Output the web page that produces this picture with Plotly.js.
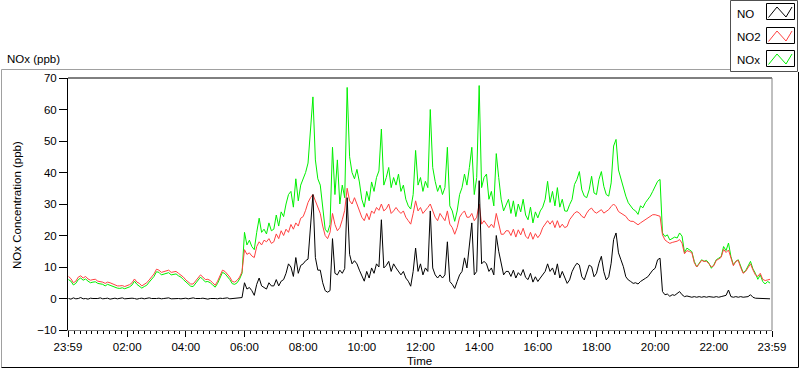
<!DOCTYPE html>
<html>
<head>
<meta charset="utf-8">
<script src="https://cdn.plot.ly/plotly-3.0.1.min.js"></script>
<style>
html,body{margin:0;padding:0;background:#fff;}
#chart{width:800px;height:369px;}
</style>
</head>
<body>
<div id="chart"></div>
<script>
// ---- data (5-minute samples, 00:00 .. 23:55) ----
const seriesNames = ['NO', 'NO2', 'NOx'];
const day = '2020-01-02';

const no2 = [
  7.0, 6.3, 5.0, 5.5, 6.8, 7.2, 6.5, 7.0, 6.2, 5.8, 6.0, 6.1,
  5.5, 5.4, 5.2, 4.8, 5.2, 5.0, 4.6, 4.2, 4.0, 4.0, 4.1, 3.8,
  4.0, 4.4, 5.0, 6.2, 5.2, 4.8, 4.0, 4.5, 5.0, 5.9, 6.8, 7.8,
  9.3, 9.0, 8.3, 8.6, 8.8, 9.0, 8.3, 8.5, 8.6, 8.0, 7.5, 6.8,
  5.9, 5.2, 4.6, 4.6, 5.5, 6.5, 7.5, 6.8, 6.0, 6.1, 5.7, 5.0,
  4.2, 5.5, 7.0, 9.0, 8.6, 7.8, 6.8, 5.4, 5.2, 5.8, 6.8, 8.5,
  15.5, 14.0, 14.5, 13.5, 13.0, 16.5, 18.0, 17.0, 18.5, 18.0, 19.0, 17.5,
  18.0, 20.5, 19.0, 21.5, 20.0, 22.0, 21.0, 23.5, 22.0, 24.0, 23.0, 25.5,
  26.0, 28.0, 30.5, 32.0, 33.0, 31.0, 29.0, 27.0, 23.0, 20.0, 19.0, 21.0,
  27.0, 23.5, 21.5, 22.5, 25.0, 28.0, 35.0, 31.0, 30.0, 32.0, 30.0, 28.0,
  25.8, 24.7, 27.0, 25.0, 27.8, 27.0, 28.9, 28.0, 30.0, 27.8, 28.5, 30.0,
  27.0, 27.8, 28.9, 27.8, 27.0, 27.8, 25.8, 24.7, 23.6, 27.0, 31.0, 27.8,
  28.9, 27.0, 27.8, 28.9, 30.0, 27.8, 25.8, 24.7, 27.0, 25.8, 24.7, 27.8,
  23.6, 22.5, 20.4, 22.5, 25.8, 27.0, 27.8, 25.8, 25.8, 27.0, 24.7, 25.8,
  30.0, 23.6, 24.7, 23.6, 22.5, 23.6, 22.5, 27.0, 23.6, 20.4, 20.4, 21.5,
  21.5, 20.0, 22.0, 19.5, 21.8, 20.2, 22.3, 19.8, 19.0, 21.0, 18.8, 20.6,
  19.3, 20.4, 22.5, 23.6, 24.7, 23.6, 24.7, 22.5, 24.7, 22.5, 23.6, 22.5,
  22.9, 25.0, 26.1, 27.1, 27.6, 27.1, 26.1, 25.6, 27.1, 28.2, 28.7, 27.6,
  27.1, 27.6, 28.2, 27.1, 27.6, 28.2, 29.2, 30.0, 29.2, 27.6, 27.1, 26.6,
  26.1, 25.0, 24.5, 24.5, 24.0, 23.4, 24.0, 24.5, 25.0, 25.6, 26.1, 26.6,
  26.6, 26.3, 26.1, 20.2, 18.6, 18.0, 17.5, 17.8, 18.0, 18.2, 18.7, 17.6,
  14.2, 15.2, 14.9, 14.6, 11.4, 10.0, 11.0, 12.1, 11.8, 11.8, 11.0, 10.0,
  10.4, 12.1, 12.5, 13.1, 15.6, 14.6, 15.4, 13.1, 10.4, 11.8, 12.1, 9.8,
  8.0, 8.6, 10.0, 11.0, 9.1, 7.5, 7.0, 8.0, 6.1, 5.7, 5.9, 6.1
];

const nox = [
  6.0, 5.5, 4.3, 4.8, 6.0, 6.5, 5.8, 6.2, 5.5, 5.0, 5.2, 5.3,
  4.8, 4.6, 4.5, 4.0, 4.5, 4.2, 3.9, 3.5, 3.3, 3.2, 3.4, 3.1,
  3.3, 3.7, 4.3, 5.5, 4.5, 4.0, 3.3, 3.8, 4.2, 5.2, 6.0, 7.0,
  8.5, 8.3, 7.5, 7.8, 8.0, 8.2, 7.5, 7.7, 7.8, 7.2, 6.8, 6.0,
  5.2, 4.5, 3.9, 3.8, 4.8, 5.8, 6.8, 6.0, 5.3, 5.4, 5.0, 4.3,
  3.6, 4.8, 6.3, 8.3, 7.9, 7.0, 6.0, 4.7, 4.5, 5.0, 6.2, 8.0,
  21.0, 17.0, 18.5, 16.5, 15.5, 21.0, 25.5, 21.0, 22.0, 20.5, 24.0, 21.5,
  22.0, 26.5, 23.0, 27.5, 26.0, 30.0, 33.0, 34.0, 29.0, 38.0, 31.0, 36.0,
  38.0, 40.0, 43.0, 55.0, 64.0, 44.0, 38.0, 36.0, 28.0, 22.0, 21.0, 23.5,
  48.0, 33.0, 44.0, 30.0, 36.0, 32.0, 67.0, 45.0, 40.0, 38.0, 41.0, 37.0,
  31.5, 29.0, 34.0, 31.0, 37.0, 34.0, 38.4, 40.5, 53.8, 36.0, 38.4, 41.6,
  35.2, 38.4, 36.0, 39.5, 34.0, 36.0, 31.5, 29.4, 28.4, 33.0, 47.0, 36.0,
  38.4, 34.0, 37.2, 35.2, 60.0, 41.6, 37.2, 34.0, 36.0, 33.0, 35.2, 48.0,
  29.4, 27.8, 24.5, 27.8, 33.0, 35.2, 39.5, 36.0, 41.6, 48.0, 33.0, 38.4,
  67.6, 35.2, 38.4, 39.5, 31.5, 34.0, 29.4, 46.0, 38.4, 31.5, 27.8, 29.4,
  31.5, 27.0, 31.0, 26.0, 30.0, 27.5, 31.5, 26.5, 25.0, 29.0, 24.0, 27.5,
  25.6, 27.8, 29.0, 31.5, 37.2, 30.5, 34.0, 29.4, 35.2, 29.0, 31.5, 27.8,
  27.7, 29.8, 31.4, 36.2, 37.8, 40.3, 34.5, 32.5, 32.0, 34.5, 38.8, 33.5,
  33.0, 37.8, 40.3, 35.6, 33.0, 32.5, 36.7, 48.4, 50.5, 40.8, 37.8, 35.6,
  32.5, 30.4, 29.4, 28.3, 27.8, 26.7, 29.4, 28.8, 30.4, 31.4, 32.5, 34.0,
  35.6, 37.2, 37.8, 20.8, 19.7, 20.2, 18.6, 19.1, 19.5, 19.2, 20.8, 19.8,
  14.6, 16.0, 15.5, 14.9, 11.8, 10.0, 11.2, 12.3, 11.8, 12.1, 11.2, 9.6,
  10.7, 12.3, 12.8, 13.3, 16.5, 15.2, 17.6, 13.3, 10.7, 11.8, 12.3, 10.0,
  8.2, 8.8, 10.3, 11.8, 9.4, 8.0, 6.1, 7.5, 5.4, 4.6, 5.4, 4.9
];

const no = [
  0.0, -0.2, 0.2, -0.1, 0.0, 0.3, -0.1, 0.0, -0.2, 0.1, 0.0, -0.1,
  0.0, 0.2, -0.1, 0.0, 0.1, -0.2, 0.0, 0.1, -0.1, 0.0, 0.2, -0.1,
  0.0, -0.1, 0.1, 0.0, -0.2, 0.0, 0.1, -0.1, 0.0, 0.2, 0.0, -0.1,
  0.0, 0.1, -0.1, 0.0, 0.0, 0.2, -0.1, 0.0, 0.1, 0.0, -0.1, 0.0,
  0.1, -0.1, 0.0, 0.2, 0.0, -0.1, 0.0, 0.1, 0.0, -0.2, 0.0, 0.1,
  0.0, -0.1, 0.1, 0.0, 0.0, 0.2, -0.1, 0.0, 0.1, 0.0, 0.2, 0.3,
  5.0, 3.0, 3.5, 2.5, 1.0, 4.5, 6.5, 4.0, 3.5, 3.0, 5.0, 4.0,
  4.0, 6.0, 4.0, 5.5, 6.0, 8.0, 11.0, 10.0, 7.0, 13.0, 8.0, 10.5,
  11.0, 12.0, 12.5, 22.0, 33.0, 13.0, 9.0, 9.0, 5.0, 2.5, 2.0, 2.5,
  19.0, 8.0, 7.5, 9.0, 8.0, 9.5, 32.0, 14.0, 11.0, 12.0, 11.0, 9.0,
  7.5, 5.5, 8.6, 6.5, 9.7, 8.0, 11.0, 10.0, 25.0, 9.7, 10.5, 11.8,
  8.6, 11.0, 9.7, 8.6, 7.5, 8.6, 6.5, 5.5, 3.9, 8.6, 16.0, 8.6,
  11.0, 7.5, 9.7, 8.6, 27.8, 9.7, 7.5, 6.5, 7.5, 6.5, 7.5, 18.0,
  5.4, 4.5, 3.2, 5.4, 7.5, 8.6, 12.9, 9.7, 18.0, 24.0, 7.5, 8.6,
  37.4, 11.0, 11.8, 11.0, 8.6, 9.7, 7.5, 20.0, 15.0, 11.0, 7.5, 8.6,
  8.6, 7.0, 9.0, 6.5, 8.2, 7.3, 9.2, 6.7, 6.0, 8.0, 5.2, 6.9,
  5.4, 6.5, 7.5, 8.6, 11.0, 8.6, 9.7, 7.5, 11.0, 6.5, 8.6, 6.5,
  4.8, 5.9, 8.5, 10.1, 11.2, 10.6, 6.9, 5.9, 8.0, 10.6, 10.1, 6.9,
  8.0, 11.2, 13.4, 8.5, 5.9, 6.9, 11.2, 18.7, 20.8, 14.5, 12.3, 10.1,
  6.9, 5.9, 5.4, 4.8, 5.0, 4.6, 5.4, 6.0, 6.4, 6.9, 8.0, 9.0,
  9.6, 12.3, 12.8, 2.2, 1.2, 1.4, 0.7, 1.2, 1.0, 1.7, 2.2, 1.2,
  0.6, 0.8, 0.6, 0.4, 0.6, 0.4, 0.6, 0.4, 0.6, 0.4, 0.6, 0.4,
  0.4, 0.6, 0.4, 0.6, 0.8, 1.0, 2.7, 0.6, 0.4, 0.6, 0.4, 0.6,
  0.4, 0.4, 0.6, 1.2, 0.4, 0.1, 0.1, 0.1, -0.1, 0.1, -0.1, -0.1
];

const tickLabels = ['23:59', '02:00', '04:00', '06:00', '08:00', '10:00', '12:00',
                    '14:00', '16:00', '18:00', '20:00', '22:00', '23:59'];
const tickTimes = ['2020-01-01 23:59', '2020-01-02 02:00', '2020-01-02 04:00', '2020-01-02 06:00',
                   '2020-01-02 08:00', '2020-01-02 10:00', '2020-01-02 12:00', '2020-01-02 14:00',
                   '2020-01-02 16:00', '2020-01-02 18:00', '2020-01-02 20:00', '2020-01-02 22:00',
                   '2020-01-02 23:59'];

// sample timestamps every 5 minutes
function pad(n){ return (n < 10 ? '0' : '') + n; }
const times = no2.map((_, i) => day + ' ' + pad(Math.floor(i / 12)) + ':' + pad((i % 12) * 5));

// ---- layout helpers (pixel -> paper) ----
const L = 68, R = 772, T = 78, B = 330;
function px(x){ return (x - L) / (R - L); }
function py(y){ return (B - y) / (B - T); }

const FONT = 'Liberation Sans, Arial, sans-serif';
const colors = {NO: '#000000', NO2: '#ff4040', NOx: '#00f000'};

const traces = [
  {x: times, y: nox, name: 'NOx', type: 'scatter', mode: 'lines', line: {color: colors.NOx, width: 1}},
  {x: times, y: no2, name: 'NO2', type: 'scatter', mode: 'lines', line: {color: colors.NO2, width: 1}},
  {x: times, y: no,  name: 'NO',  type: 'scatter', mode: 'lines', line: {color: colors.NO,  width: 1}}
];

function line(x0, y0, x1, y1, color){
  return {type: 'line', xref: 'paper', yref: 'paper', x0: px(x0), y0: py(y0), x1: px(x1), y1: py(y1),
          line: {color: color, width: 1}};
}
function zig(top, color){
  const pts = [[768.5, top + 13.5], [777, top + 3], [786, top + 13], [792, top + 3]];
  const d = pts.map((p, i) => (i ? 'L' : 'M') + px(p[0]) + ',' + py(p[1])).join(' ');
  return {type: 'path', xref: 'paper', yref: 'paper', path: d, line: {color: color, width: 1}};
}
function box(x0, y0, x1, y1, color, fill){
  return {type: 'rect', xref: 'paper', yref: 'paper', x0: px(x0), y0: py(y0), x1: px(x1), y1: py(y1),
          line: {color: color, width: 1}, fillcolor: fill || 'rgba(0,0,0,0)'};
}

const shapes = [
  // outer panel
  line(1.5, 69.5, 730, 69.5, '#a0a0a0'),
  line(1.5, 69.5, 1.5, 367.5, '#a0a0a0'),
  line(1.5, 367.5, 798.5, 367.5, '#000000'),
  line(798.5, 72, 798.5, 367.5, '#000000'),
  // plot frame
  line(L, T, R, T, '#000000'),
  line(R, T, R, B, '#808080'),
  // legend
  box(730.5, 0.5, 797.5, 71.5, '#505050', '#ffffff'),
  box(766.5, 3.5, 794.5, 19.5, '#000000', '#ffffff'),
  box(766.5, 27.5, 794.5, 43.5, '#000000', '#ffffff'),
  box(766.5, 50.5, 794.5, 66.5, '#000000', '#ffffff'),
  zig(4, colors.NO), zig(28, colors.NO2), zig(51, colors.NOx)
];

const legendLabelY = [14, 37, 60];
const annotations = [
  {text: 'NOx (ppb)', x: px(5), y: py(59), xanchor: 'left', yanchor: 'middle'},
  {text: 'NOx Concentration (ppb)', x: px(17), y: py(205), xanchor: 'center', yanchor: 'middle', textangle: -90},
  {text: 'Time', x: px(419), y: py(361), xanchor: 'center', yanchor: 'middle'},
  {text: seriesNames[0], x: px(735), y: py(legendLabelY[0]), xanchor: 'left', yanchor: 'middle'},
  {text: seriesNames[1], x: px(735), y: py(legendLabelY[1]), xanchor: 'left', yanchor: 'middle'},
  {text: seriesNames[2], x: px(735), y: py(legendLabelY[2]), xanchor: 'left', yanchor: 'middle'}
].map(a => Object.assign({xref: 'paper', yref: 'paper', showarrow: false,
                          font: {family: FONT, size: 11.5, color: '#000'}}, a));

const layout = {
  width: 800, height: 369,
  margin: {l: L, r: 800 - R, t: T, b: 369 - B, pad: 0},
  paper_bgcolor: '#ffffff', plot_bgcolor: '#ffffff',
  showlegend: false,
  font: {family: FONT, size: 11.5, color: '#000'},
  xaxis: {
    type: 'date',
    range: [tickTimes[0], tickTimes[tickTimes.length - 1]],
    tickmode: 'array', tickvals: tickTimes, ticktext: tickLabels,
    ticks: 'outside', ticklen: 6, tickcolor: '#000', tickwidth: 1,
    minor: {ticks: 'outside', ticklen: 3, tickcolor: '#000', dtick: 12 * 60 * 1000,
            tick0: '2020-01-02 00:00', showgrid: false},
    showgrid: false, zeroline: false,
    showline: true, linecolor: '#808080', linewidth: 1,
    tickfont: {family: FONT, size: 11.5, color: '#000'},
    fixedrange: true
  },
  yaxis: {
    range: [-10, 70], dtick: 10, tick0: 0,
    ticks: 'outside', ticklen: 8, tickcolor: '#000', tickwidth: 1,
    showgrid: false, zeroline: false,
    showline: true, linecolor: '#000', linewidth: 1,
    tickfont: {family: FONT, size: 11.5, color: '#000'},
    fixedrange: true
  },
  shapes: shapes,
  annotations: annotations
};

Plotly.newPlot('chart', traces, layout, {displayModeBar: false, staticPlot: true});
</script>
</body>
</html>
